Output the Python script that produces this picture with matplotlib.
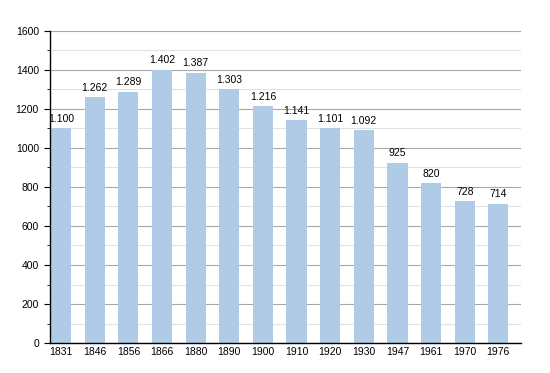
import numpy as np
from matplotlib import pyplot as plt
from matplotlib.ticker import MultipleLocator

years = ['1831', '1846', '1856', '1866', '1880', '1890', '1900', '1910', '1920', '1930', '1947', '1961', '1970', '1976']
population = [1100, 1262, 1289, 1402, 1387, 1303, 1216, 1141, 1101, 1092, 925, 820, 728, 714]
labels = ['1.100', '1.262', '1.289', '1.402', '1.387', '1.303', '1.216', '1.141', '1.101', '1.092', '925', '820', '728', '714']

plt.rcParams['font.family'] = 'Liberation Sans'
plt.rcParams['font.size'] = 7.5

fig = plt.figure(figsize=(5.5, 3.73), dpi=100)
ax = fig.add_axes([0.091, 0.0804, 0.856, 0.8366])

x = np.arange(len(years))
w = 0.6
bars = ax.bar(x + 0.03, population, width=w, align='edge', color='#b0cbe5', zorder=2)
for xi, v, t in zip(x, population, labels):
    ax.text(xi + 0.03 + w / 2, v + 22, t, ha='center', va='bottom', fontsize=7.5)

ax.set_xlim(0, len(years))
ax.set_ylim(0, 1600)
ax.set_xticks(x + 0.03 + w / 2)
ax.set_xticklabels(years)
ax.yaxis.set_major_locator(MultipleLocator(200))
ax.yaxis.set_minor_locator(MultipleLocator(100))
ax.grid(axis='y', which='major', color='#a8a8a8', linewidth=0.8, zorder=0)
ax.grid(axis='y', which='minor', color='#e2e2e2', linewidth=0.8, zorder=0)
ax.set_axisbelow(True)

for s in ['top', 'right']:
    ax.spines[s].set_visible(False)
ax.spines['left'].set_linewidth(1)
ax.spines['bottom'].set_linewidth(1)
ax.tick_params(axis='x', length=0, pad=3)
ax.tick_params(axis='y', which='major', length=4, pad=4)
ax.tick_params(axis='y', which='minor', length=2)

fig.savefig('out.png', dpi=100)
